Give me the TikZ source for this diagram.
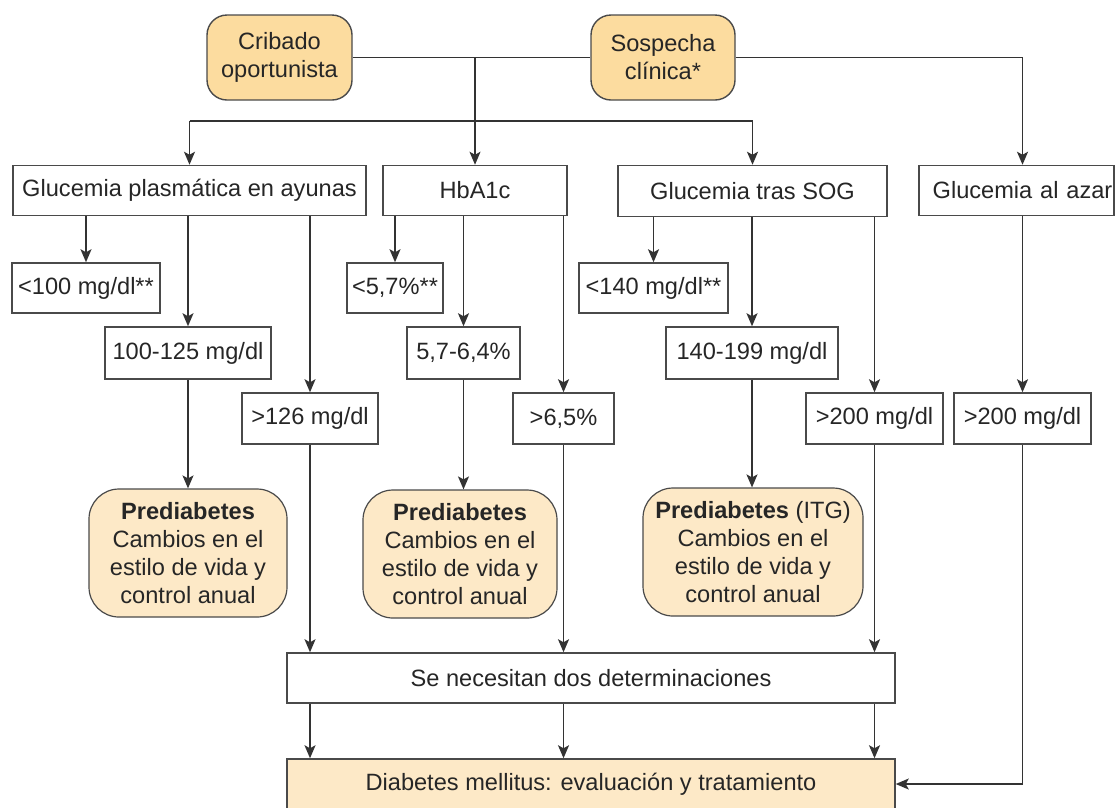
\documentclass[tikz,border=0pt]{standalone}
\usepackage{fontspec}
\setmainfont{Liberation Sans}
\usetikzlibrary{arrows.meta}
\definecolor{ln}{HTML}{333333}
\definecolor{bd}{HTML}{4A4A4A}
\definecolor{tx}{HTML}{262626}
\definecolor{topfill}{HTML}{FCDC9F}
\definecolor{prefill}{HTML}{FDE9C7}
\begin{document}
\begin{tikzpicture}[x=1pt,y=-1pt,
  every node/.style={font=\fontsize{23.6}{28}\selectfont, text=tx, inner sep=0pt, align=center},
  sq/.style={draw=bd, line width=1.5pt, fill=white},
  topbox/.style={draw=bd, line width=1.4pt, fill=topfill, rounded corners=20pt},
  prebox/.style={draw=bd, line width=1.2pt, fill=prefill, rounded corners=30pt},
  arr/.style={draw=ln, line width=1.6pt, -{Stealth[length=13pt,width=11pt,inset=3pt]}},
  ln/.style={draw=ln, line width=1.6pt}]
\useasboundingbox (0,0) rectangle (1115,807);
% top
\node[topbox, minimum width=145pt, minimum height=85pt] (crib) at (279.5,57.5) {Cribado\\oportunista};
\node[topbox, minimum width=144pt, minimum height=85pt] (sosp) at (663,57.5) {Sospecha\\clínica*};
% row 2
\node[sq, minimum width=353pt, minimum height=50pt] (gp) at (189.5,190.5) {Glucemia plasmática en ayunas};
\node[sq, minimum width=184pt, minimum height=50pt] (hb) at (475,190.5) {HbA1c};
\node[sq, minimum width=269pt, minimum height=51pt] (sog) at (752.5,191) {Glucemia tras SOG};
\node[sq, minimum width=195pt, minimum height=50pt, text width=195pt] (azar) at (1016.5,190.5) {\hspace*{12pt}Glucemia al azar};
% row 3
\node[sq, minimum width=148pt, minimum height=50pt] (g100) at (86,288) {<100 mg/dl**};
\node[sq, minimum width=96pt, minimum height=50pt] (h57) at (395,288) {<5,7\%**};
\node[sq, minimum width=149pt, minimum height=50pt] (s140) at (653.5,288) {<140 mg/dl**};
% row 4
\node[sq, minimum width=166pt, minimum height=52pt] (g125) at (188,353) {100-125 mg/dl};
\node[sq, minimum width=113pt, minimum height=52pt] (h64) at (463.5,353) {5,7-6,4\%};
\node[sq, minimum width=172pt, minimum height=52pt] (s199) at (752,353) {140-199 mg/dl};
% row 5
\node[sq, minimum width=136pt, minimum height=51pt] (g126) at (310,418.5) {>126 mg/dl};
\node[sq, minimum width=101pt, minimum height=51pt] (h65) at (563.5,418.5) {>6,5\%};
\node[sq, minimum width=137pt, minimum height=51pt] (s200) at (874.5,418.5) {>200 mg/dl};
\node[sq, minimum width=137pt, minimum height=51pt] (a200) at (1022.5,418.5) {>200 mg/dl};
% prediabetes
\node[prebox, minimum width=198pt, minimum height=128pt] (p1) at (188,553) {\textbf{Prediabetes}\\Cambios en el\\estilo de vida y\\control anual};
\node[prebox, minimum width=194pt, minimum height=128pt] (p2) at (460,554) {\textbf{Prediabetes}\\Cambios en el\\estilo de vida y\\control anual};
\node[prebox, minimum width=220pt, minimum height=128pt] (p3) at (753,552) {\textbf{Prediabetes} (ITG)\\Cambios en el\\estilo de vida y\\control anual};
% bottom
\node[sq, minimum width=608pt, minimum height=50pt] (sn) at (591,678) {Se necesitan dos determinaciones};
\node[sq, fill=prefill, minimum width=608pt, minimum height=50pt] (dm) at (591,784) {Diabetes mellitus: evaluación y tratamiento};
% connectors top
\coordinate (by) at (0,121);
\draw[ln] (crib.east) -- (sosp.west);
\draw[arr] (crib.east -| hb.north) -- (hb.north);
\draw[arr] (gp.north |- by) -- (gp.north);
\draw[arr] (gp.north |- by) -- (sog.north |- by) -- (sog.north);
\draw[arr] (sosp.east) -| (a200.north |- azar.north);
% from row 2
\draw[arr] (gp.south -| g100.north) -- (g100.north);
\draw[arr] (gp.south -| g125.north) -- (g125.north);
\draw[arr] (gp.south -| g126.north) -- (g126.north);
\draw[arr] (hb.south -| h57.north) -- (h57.north);
\draw[arr] (hb.south -| h64.north) -- (h64.north);
\draw[arr] (hb.south -| h65.north) -- (h65.north);
\draw[arr] (sog.south -| s140.north) -- (s140.north);
\draw[arr] (sog.south -| s199.north) -- (s199.north);
\draw[arr] (sog.south -| s200.north) -- (s200.north);
\draw[arr] (azar.south -| a200.north) -- (a200.north);
% to prediabetes
\draw[arr] (g125.south) -- (p1.north -| g125.south);
\draw[arr] (h64.south) -- (p2.north -| h64.south);
\draw[arr] (s199.south) -- (p3.north -| s199.south);
% to se necesitan
\draw[arr] (g126.south) -- (sn.north -| g126.south);
\draw[arr] (h65.south) -- (sn.north -| h65.south);
\draw[arr] (s200.south) -- (sn.north -| s200.south);
% to diabetes
\draw[arr] (sn.south -| g126.south) -- (dm.north -| g126.south);
\draw[arr] (sn.south -| h65.south) -- (dm.north -| h65.south);
\draw[arr] (sn.south -| s200.south) -- (dm.north -| s200.south);
\draw[arr] (a200.south) |- (dm.east);
\end{tikzpicture}
\end{document}
